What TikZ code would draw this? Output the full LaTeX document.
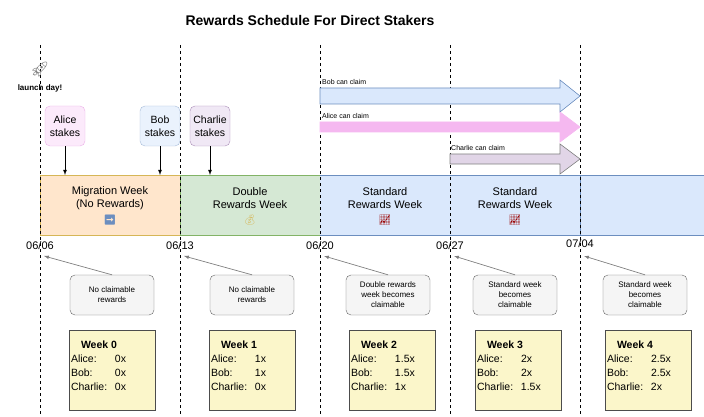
\documentclass[tikz,border=0pt]{standalone}
\usepackage{fontspec}
\setmainfont{Liberation Sans}
\newfontfamily\emo{Noto Emoji}
\definecolor{obg}{HTML}{FFE6CC}\definecolor{obd}{HTML}{D6B656}
\definecolor{gbg}{HTML}{D5E8D4}\definecolor{gbd}{HTML}{82B366}
\definecolor{bbg}{HTML}{DAE8FC}\definecolor{bbd}{HTML}{6C8EBF}
\definecolor{pbg}{HTML}{F5B8F0}\definecolor{pbd}{HTML}{E07BD8}
\definecolor{vbg}{HTML}{E1D5E7}\definecolor{vbd}{HTML}{9673A6}
\definecolor{ybg}{HTML}{FBF6CA}
\definecolor{sa}{HTML}{FCEAFB}\definecolor{sb}{HTML}{EAF2FD}\definecolor{sc}{HTML}{F0E8F5}
\begin{document}
\begin{tikzpicture}[x=1pt,y=-1pt,
  vline/.style={dashed,line width=0.6pt},
  stakebox/.style={draw=#1,rounded corners=5pt,minimum width=40pt,minimum height=40pt,align=center,font=\fontsize{10.5}{13}\selectfont,inner sep=1pt},
  note/.style={draw=black!60,fill=black!4,rounded corners=5pt,minimum width=84pt,minimum height=40pt,align=center,font=\fontsize{8}{10}\selectfont,inner sep=1pt},
  weekbox/.style={draw=black!70,fill=ybg,minimum width=86pt,minimum height=80pt,inner sep=0pt},
  grayarr/.style={draw=black!50,->,>=latex,line width=0.7pt},
  claimlbl/.style={anchor=south west,font=\fontsize{7}{8}\selectfont,inner sep=1pt},
  bandtxt/.style={align=center,font=\fontsize{11}{13}\selectfont},
  date/.style={font=\fontsize{11}{13}\selectfont},
  fatarr/.style={line width=0.6pt,line join=miter}
]
\useasboundingbox (0,0) rectangle (704,417);
% bands
\draw[fill=obg,draw=obd] (40,175) rectangle (180,235);
\draw[fill=gbg,draw=gbd] (180,175) rectangle (320,235);
\fill[bbg] (320,175) rectangle (704,235);
\draw[bbd] (320,175) -- (704,175) (320,235) -- (704,235) (580,175) -- (580,235);
% dashed lines
\foreach \x in {40,180,320,450,580} \draw[vline] (\x,45) -- (\x,417);
% title
\node[font=\bfseries\fontsize{14}{16}\selectfont] (title) at (310,20) {Rewards Schedule For Direct Stakers};
\node[font=\emo\fontsize{15}{16}\selectfont,text=gray] (rocket) at (40,70) {🚀};
\node[font=\bfseries\fontsize{8}{10}\selectfont] (launch) at (40,88) {launch day!};
% band texts
\node[bandtxt] (w0) at (110,198) {Migration Week\\(No Rewards)};
\node[font=\emo\fontsize{10}{12}\selectfont,text=bbd] (e0) at (110,220) {➡};
\node[bandtxt] (w1) at (250,198) {Double\\Rewards Week};
\node[font=\emo\fontsize{10}{12}\selectfont,text=obd] (e1) at (250,220) {💰};
\node[bandtxt] (w2) at (385,198) {Standard\\Rewards Week};
\node[font=\emo\fontsize{10}{12}\selectfont,text=red!60!black] (e2) at (385,220) {📈};
\node[bandtxt] (w3) at (515,198) {Standard\\Rewards Week};
\node[font=\emo\fontsize{10}{12}\selectfont,text=red!60!black] (e3) at (515,220) {📈};
% dates
\node[date] (d0) at (40,246) {06/06};
\node[date] (d1) at (180,246) {06/13};
\node[date] (d2) at (320,246) {06/20};
\node[date] (d3) at (450,246) {06/27};
\node[date] (d4) at (580,244) {07/04};
% stakers
\node[stakebox=pbd!60,fill=sa] (alice) at (65,126) {Alice\\stakes};
\node[stakebox=bbd!60,fill=sb] (bob) at (160,126) {Bob\\stakes};
\node[stakebox=vbd!80,fill=sc] (charlie) at (210,126) {Charlie\\stakes};
\coordinate (ta) at (65,175); \coordinate (tb) at (160,175); \coordinate (tc) at (210,175);
\draw[->,>=latex,line width=0.8pt] (alice) -- (ta);
\draw[->,>=latex,line width=0.8pt] (bob) -- (tb);
\draw[->,>=latex,line width=0.8pt] (charlie) -- (tc);
% claim arrows
\draw[fatarr,fill=bbg,draw=bbd] (320,88) -- (560,88) -- (560,80) -- (580,96) -- (560,112) -- (560,104) -- (320,104) -- cycle;
\node[claimlbl] (bobl) at (321,86) {Bob can claim};
\draw[fatarr,fill=pbg,draw=pbg] (320,122) -- (560,122) -- (560,112) -- (580,127) -- (560,142) -- (560,132) -- (320,132) -- cycle;
\node[claimlbl] (alicel) at (321,120) {Alice can claim};
\draw[fatarr,fill=vbg,draw=black!50] (450,154) -- (560,154) -- (560,144) -- (580,159) -- (560,174) -- (560,164) -- (450,164) -- cycle;
\node[claimlbl] (charliel) at (450,152) {Charlie can claim};
% notes
\node[note] (n0) at (112,295) {No claimable\\rewards};
\node[note] (n1) at (252,295) {No claimable\\rewards};
\node[note] (n2) at (388,295) {Double rewards\\week becomes\\claimable};
\node[note] (n3) at (515,295) {Standard week\\becomes\\claimable};
\node[note] (n4) at (645,295) {Standard week\\becomes\\claimable};
\coordinate (p0) at (44,256); \coordinate (p1) at (184,256); \coordinate (p2) at (324,256); \coordinate (p3) at (454,256); \coordinate (p4) at (584,256);
\draw[grayarr] (n0.north) -- (p0);
\draw[grayarr] (n1.north) -- (p1);
\draw[grayarr] (n2.north) -- (p2);
\draw[grayarr] (n3.north) -- (p3);
\draw[grayarr] (n4.north) -- (p4);
% weeks
\foreach \n/\x/\a/\b/\c in {0/112/0x/0x/0x,1/252/1x/1x/0x,2/392/1.5x/1.5x/1x,3/518/2x/2x/1.5x,4/648/2.5x/2.5x/2x}{
  \node[weekbox] (wk\n) at (\x,370) {};
  \node[anchor=north west,inner sep=0pt,font=\fontsize{10.5}{14}\selectfont,align=left] (wt\n) at ([xshift=2pt,yshift=-11pt]wk\n.north west)
   {\hspace*{10pt}\textbf{Week \n}\\
    \makebox[44pt][l]{Alice:}\a\\
    \makebox[44pt][l]{Bob:}\b\\
    \makebox[44pt][l]{Charlie:}\c};
}
\end{tikzpicture}
\end{document}
